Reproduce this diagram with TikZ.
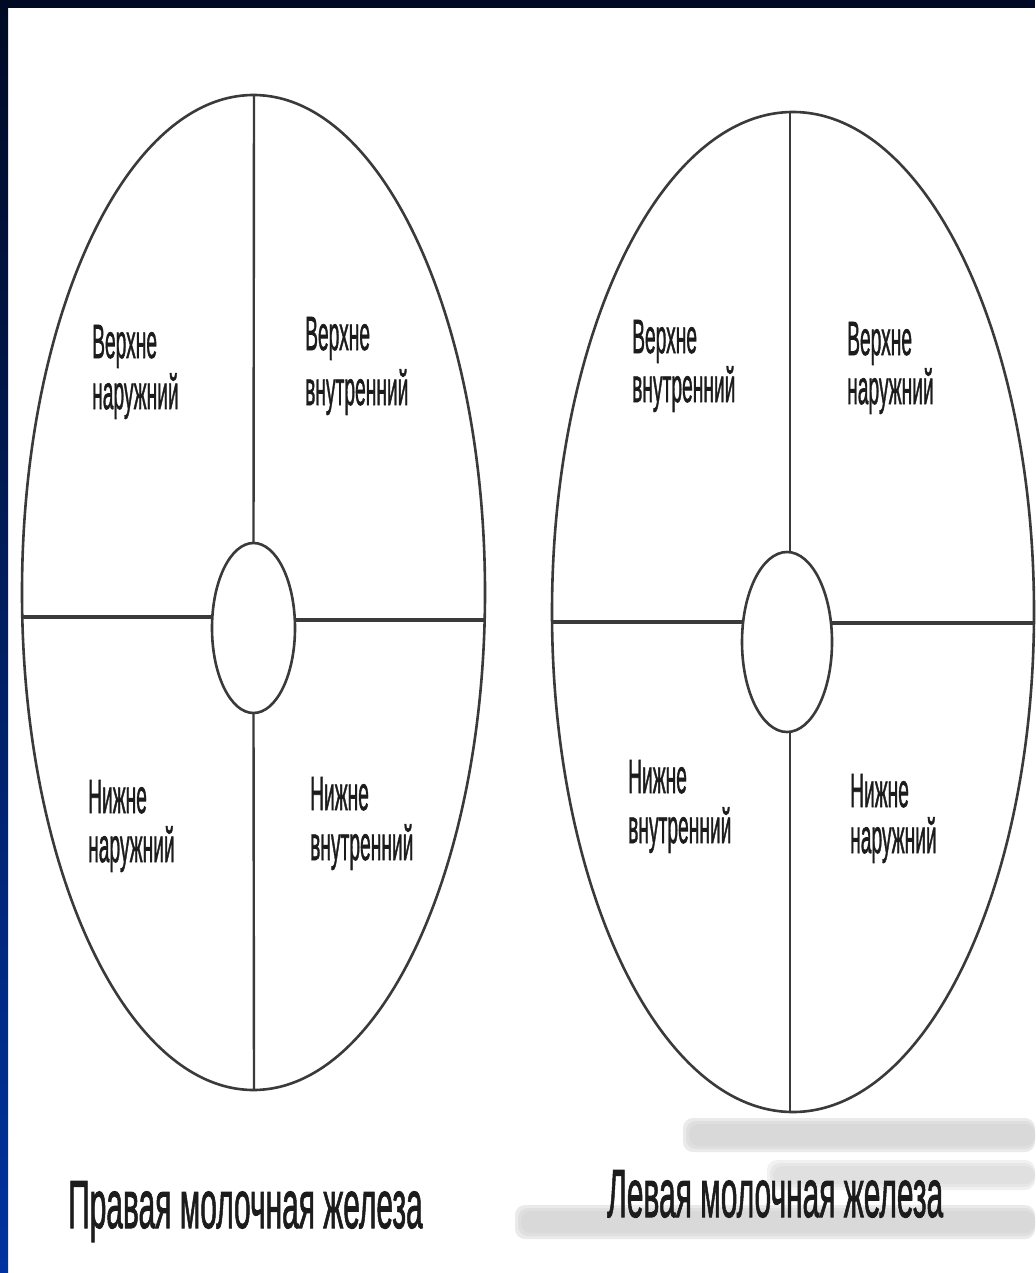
\documentclass[tikz,border=0pt]{standalone}
\usepackage{fontspec}
\setmainfont{Liberation Sans}
\newfontfamily\heavyfont[FakeBold=1.6]{Liberation Sans}
\usetikzlibrary{shapes.geometric}
\definecolor{navytop}{HTML}{000A24}
\definecolor{navybot}{HTML}{0033A0}
\definecolor{linegray}{HTML}{3A3A3A}
\definecolor{txtdark}{HTML}{1C1C1C}
\definecolor{smudge}{HTML}{D2D2D2}
\newcommand{\squeezetxt}[2]{\scalebox{#1}[1]{#2}}
\begin{document}
\begin{tikzpicture}[x=1pt,y=-1pt,
  bigell/.style={ellipse,draw=linegray,line width=2.6pt,inner sep=0pt,outer sep=0pt},
  smallell/.style={ellipse,draw=linegray,line width=2.6pt,inner sep=0pt,outer sep=0pt},
  vline/.style={draw=linegray,line width=2.4pt},
  hline/.style={draw=linegray,line width=3.4pt},
  smudgebar/.style={fill=smudge,rounded corners=10pt,opacity=0.45},
  lbl/.style={anchor=base west,inner sep=0pt,text=txtdark,font=\heavyfont\fontsize{48}{50}\selectfont},
  captxt/.style={anchor=base west,inner sep=0pt,text=txtdark,font=\heavyfont\fontsize{68}{70}\selectfont}]
\useasboundingbox (0,0) rectangle (1035,1273);
\fill[white] (0,0) rectangle (1035,1273);
\shade[top color=navytop,bottom color=navybot] (0,0) rectangle (8,1273);
\fill[navytop] (0,0) rectangle (1035,8);

% watermark smudges (blurred, layered)
\foreach \d in {0,3,6}{
  \fill[smudgebar] (683+\d,1118+\d) rectangle (1035,1152-\d);
  \fill[smudgebar,opacity=0.3] (767+\d,1160+\d) rectangle (1035,1190-\d);
  \fill[smudgebar] (515+\d,1205+\d) rectangle (1035,1239-\d);
}

% left breast
\node[bigell,minimum width=463pt,minimum height=995pt] (L) at (253.5,592.5) {};
\node[smallell,minimum width=83pt,minimum height=170pt] (Lc) at (253.5,628) {};
\coordinate (Ltop) at (254,95);
\coordinate (Lbot) at (254,1090);
\coordinate (Lleft) at (22,617);
\coordinate (Lright) at (485,620);
\path[vline] (Ltop) -- (Lc.north);
\path[vline] (Lc.south) -- (Lbot);
\path[hline] (Lleft) -- (Lc.west |- Lleft);
\path[hline] (Lc.east |- Lright) -- (Lright);

% right breast
\node[bigell,minimum width=482pt,minimum height=1000pt] (R) at (793,612) {};
\node[smallell,minimum width=90pt,minimum height=180pt] (Rc) at (787,642) {};
\coordinate (Rtop) at (790,112);
\coordinate (Rbot) at (790,1112);
\coordinate (Rleft) at (552,622);
\coordinate (Rright) at (1034,623);
\path[vline] (Rtop) -- (Rtop |- Rc.north);
\path[vline] (Rbot |- Rc.south) -- (Rbot);
\path[hline] (Rleft) -- (Rc.west |- Rleft);
\path[hline] (Rc.east |- Rright) -- (Rright);

% left labels
\node[lbl] (l1a) at (92,358) {\squeezetxt{0.4}{Верхне}};
\node[lbl] (l1b) at (92,409) {\squeezetxt{0.4}{наружний}};
\node[lbl] (l2a) at (305,350) {\squeezetxt{0.4}{Верхне}};
\node[lbl] (l2b) at (305,405) {\squeezetxt{0.4}{внутренний}};
\node[lbl] (l3a) at (88,813) {\squeezetxt{0.4}{Нижне}};
\node[lbl] (l3b) at (88,862) {\squeezetxt{0.4}{наружний}};
\node[lbl] (l4a) at (310,810) {\squeezetxt{0.4}{Нижне}};
\node[lbl] (l4b) at (310,860) {\squeezetxt{0.4}{внутренний}};

% right labels
\node[lbl] (r1a) at (632,353) {\squeezetxt{0.4}{Верхне}};
\node[lbl] (r1b) at (632,402) {\squeezetxt{0.4}{внутренний}};
\node[lbl] (r2a) at (847,355) {\squeezetxt{0.4}{Верхне}};
\node[lbl] (r2b) at (847,404) {\squeezetxt{0.4}{наружний}};
\node[lbl] (r3a) at (628,793) {\squeezetxt{0.4}{Нижне}};
\node[lbl] (r3b) at (628,843) {\squeezetxt{0.4}{внутренний}};
\node[lbl] (r4a) at (850,807) {\squeezetxt{0.4}{Нижне}};
\node[lbl] (r4b) at (850,853) {\squeezetxt{0.4}{наружний}};

% captions
\node[captxt] (capL) at (68,1228) {\squeezetxt{0.44}{Правая молочная железа}};
\node[captxt] (capR) at (607,1217) {\squeezetxt{0.44}{Левая молочная железа}};
\end{tikzpicture}
\end{document}
